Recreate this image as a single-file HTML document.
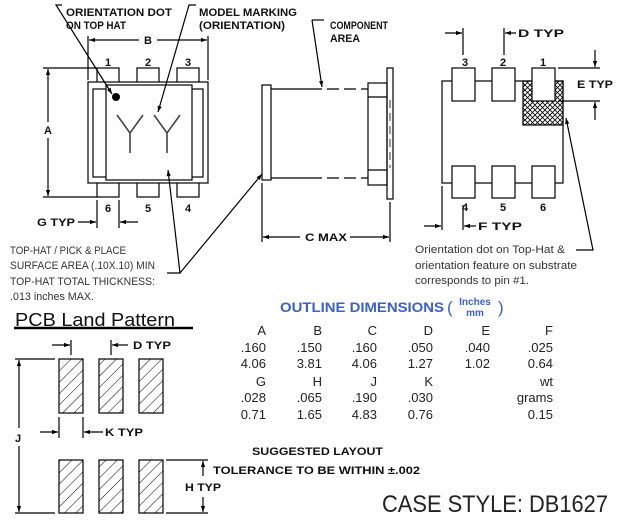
<!DOCTYPE html>
<html><head><meta charset="utf-8"><style>
html,body{margin:0;padding:0;background:#fff;}
svg{display:block;}
.t{font-family:"Liberation Sans",sans-serif;font-weight:bold;font-size:11px;fill:#111;}
.n{font-family:"Liberation Sans",sans-serif;font-size:11px;fill:#333;}
.d{font-family:"Liberation Sans",sans-serif;font-size:13px;fill:#222;}
</style></head><body>
<svg width="620" height="522" viewBox="0 0 620 522" xmlns="http://www.w3.org/2000/svg">
<defs>
<marker id="a" viewBox="0 0 10 10" refX="10" refY="5" markerWidth="8" markerHeight="6" orient="auto-start-reverse" markerUnits="userSpaceOnUse"><path d="M0,1.5 L10,5 L0,8.5 z" fill="#000"/></marker>
<pattern id="h" patternUnits="userSpaceOnUse" width="8" height="8" patternTransform="rotate(45)"><line x1="0" y1="0" x2="0" y2="8" stroke="#000" stroke-width="1"/></pattern>
<pattern id="x" patternUnits="userSpaceOnUse" width="5" height="5"><path d="M0,0 L5,5 M5,0 L0,5" stroke="#000" stroke-width="0.8"/></pattern>
</defs>
<g fill="none" stroke="#000" stroke-width="1.2">
<rect x="97" y="68" width="22" height="129" fill="#fff"/>
<rect x="137" y="68" width="22" height="129" fill="#fff"/>
<rect x="177" y="68" width="22" height="129" fill="#fff"/>
<rect x="88" y="82" width="120" height="101" fill="#fff"/>
<rect x="93" y="89" width="110" height="88" fill="#fff"/>
<rect x="106" y="85" width="86" height="95" fill="#fff"/>
<path d="M117,115 L130,133 L143,115 M130,133 L130,153 M154,115 L167,133 L180,115 M167,133 L167,153" stroke="#444" stroke-width="1.6"/>
<circle cx="116" cy="97" r="4" fill="#000" stroke="none"/>
<path d="M88,36 V80 M208,36 V80"/>
<path d="M139,40 H89" marker-end="url(#a)"/><path d="M157,40 H207" marker-end="url(#a)"/>
<path d="M43,68 H97 M43,197 H97"/>
<path d="M48,122 V69" marker-end="url(#a)"/><path d="M48,138 V196" marker-end="url(#a)"/>
<path d="M97,200 V228 M119,200 V228"/>
<path d="M78,222 H96" marker-end="url(#a)"/><path d="M138,222 H120" marker-end="url(#a)"/>
<path d="M62,5 H56 L112,94" marker-end="url(#a)"/>
<path d="M196,5 H189 L158,112" marker-end="url(#a)"/>
<path d="M167,273 H180 L168,170" marker-end="url(#a)"/>
<path d="M180,273 L262,174" marker-end="url(#a)"/>
<rect x="262" y="85" width="9" height="95" fill="#fff"/>
<path d="M271,89 H310 M271,178 H310"/>
<path d="M310,89 H368 M310,178 H368" stroke-dasharray="12,5"/>
<rect x="368" y="83" width="19" height="102"/>
<path d="M368,97 H387 M368,170 H387"/>
<rect x="387" y="68" width="6" height="131"/>
<path d="M390,100 V168" stroke-dasharray="8,5" stroke-width="0.8"/>
<path d="M312,20 H324"/><path d="M312,20 L322,87" marker-end="url(#a)"/>
<path d="M262,183 V242 M390,202 V242"/>
<path d="M300,237 H263" marker-end="url(#a)"/><path d="M350,237 H389" marker-end="url(#a)"/>
<rect x="442" y="81" width="121" height="102"/>
<rect x="523" y="81" width="40" height="44" fill="url(#x)"/>
<rect x="452" y="68" width="23" height="33" fill="#fff"/>
<rect x="492" y="68" width="23" height="33" fill="#fff"/>
<rect x="532" y="68" width="23" height="33" fill="#fff"/>
<rect x="452" y="166" width="23" height="32" fill="#fff"/>
<rect x="492" y="166" width="23" height="32" fill="#fff"/>
<rect x="532" y="166" width="23" height="32" fill="#fff"/>
<path d="M463,28 V55 M504,28 V55"/>
<path d="M445,33 H462" marker-end="url(#a)"/><path d="M516,33 H505" marker-end="url(#a)"/>
<path d="M558,68 H600 M558,101 H600"/>
<path d="M595,50 V67" marker-end="url(#a)"/><path d="M595,120 V102" marker-end="url(#a)"/>
<path d="M442,186 V230 M463,205 V230"/>
<path d="M424,226 H441" marker-end="url(#a)"/><path d="M476,226 H464" marker-end="url(#a)"/>
<path d="M576,250 H593 L566,118" marker-end="url(#a)"/>
<path d="M14,328 H193" stroke-width="2.5"/>
<g fill="url(#h)">
<rect x="59" y="359" width="24" height="54"/><rect x="99" y="359" width="24" height="54"/><rect x="139" y="359" width="24" height="54"/>
<rect x="59" y="460" width="24" height="53"/><rect x="99" y="460" width="24" height="53"/><rect x="139" y="460" width="24" height="53"/>
</g>
<path d="M15,359 H55 M15,513 H55"/>
<path d="M19,428 V360" marker-end="url(#a)"/><path d="M19,446 V512" marker-end="url(#a)"/>
<path d="M71,340 V355 M111,340 V355"/>
<path d="M52,345 H70" marker-end="url(#a)"/><path d="M128,345 H112" marker-end="url(#a)"/>
<path d="M59,417 V438 M83,417 V438"/>
<path d="M40,432 H58" marker-end="url(#a)"/><path d="M103,432 H84" marker-end="url(#a)"/>
<path d="M166,460 H208 M166,513 H208"/>
<path d="M203,476 V461" marker-end="url(#a)"/><path d="M203,497 V512" marker-end="url(#a)"/>
</g>
<text class="t" x="66" y="16" textLength="106" lengthAdjust="spacingAndGlyphs">ORIENTATION DOT</text>
<text class="t" x="66" y="29" textLength="60" lengthAdjust="spacingAndGlyphs">ON TOP HAT</text>
<text class="t" x="199" y="16" textLength="98" lengthAdjust="spacingAndGlyphs">MODEL MARKING</text>
<text class="t" x="199" y="29" textLength="86" lengthAdjust="spacingAndGlyphs">(ORIENTATION)</text>
<text class="t" x="330" y="29" textLength="58" lengthAdjust="spacingAndGlyphs">COMPONENT</text>
<text class="t" x="330" y="42" textLength="30" lengthAdjust="spacingAndGlyphs">AREA</text>
<g class="t" text-anchor="middle">
<text x="148" y="44">B</text><text x="48" y="134">A</text>
<text x="108" y="66">1</text><text x="148" y="66">2</text><text x="188" y="66">3</text>
<text x="108" y="212">6</text><text x="148" y="212">5</text><text x="188" y="212">4</text>
<text x="465" y="66">3</text><text x="503" y="66">2</text><text x="543" y="66">1</text>
<text x="465" y="211">4</text><text x="503" y="211">5</text><text x="543" y="211">6</text>
<text x="18" y="442">J</text>
</g>
<text class="t" x="37" y="226" textLength="38" lengthAdjust="spacingAndGlyphs">G TYP</text>
<text class="t" x="305" y="241" textLength="42" lengthAdjust="spacingAndGlyphs">C MAX</text>
<text class="t" x="518" y="37" textLength="46" lengthAdjust="spacingAndGlyphs">D TYP</text>
<text class="t" x="577" y="88" textLength="36" lengthAdjust="spacingAndGlyphs">E TYP</text>
<text class="t" x="478" y="230" textLength="44" lengthAdjust="spacingAndGlyphs">F TYP</text>
<text class="t" x="133" y="349" textLength="38" lengthAdjust="spacingAndGlyphs">D TYP</text>
<text class="t" x="105" y="436" textLength="38" lengthAdjust="spacingAndGlyphs">K TYP</text>
<text class="t" x="185" y="491" textLength="36" lengthAdjust="spacingAndGlyphs">H TYP</text>
<text class="t" x="252" y="455" textLength="131" lengthAdjust="spacingAndGlyphs">SUGGESTED LAYOUT</text>
<text class="t" x="213" y="474" textLength="207" lengthAdjust="spacingAndGlyphs">TOLERANCE TO BE WITHIN ±.002</text>
<g class="n">
<text x="10" y="254" textLength="116" lengthAdjust="spacingAndGlyphs">TOP-HAT / PICK &amp; PLACE</text>
<text x="10" y="269" textLength="145" lengthAdjust="spacingAndGlyphs">SURFACE AREA (.10X.10) MIN</text>
<text x="10" y="285" textLength="145" lengthAdjust="spacingAndGlyphs">TOP-HAT TOTAL THICKNESS:</text>
<text x="10" y="300" textLength="84" lengthAdjust="spacingAndGlyphs">.013 inches MAX.</text>
<text x="415" y="253" textLength="150" lengthAdjust="spacingAndGlyphs">Orientation dot on Top-Hat &amp;</text>
<text x="415" y="269" textLength="162" lengthAdjust="spacingAndGlyphs">orientation feature on substrate</text>
<text x="415" y="284" textLength="114" lengthAdjust="spacingAndGlyphs">corresponds to pin #1.</text>
</g>
<text x="15" y="326" font-family="Liberation Sans,sans-serif" font-size="18" fill="#111" textLength="160" lengthAdjust="spacingAndGlyphs">PCB Land Pattern</text>
<text x="280" y="312" font-family="Liberation Sans,sans-serif" font-size="14" font-weight="bold" fill="#3a5fcf" textLength="164" lengthAdjust="spacingAndGlyphs">OUTLINE DIMENSIONS</text>
<text x="447" y="313" font-family="Liberation Sans,sans-serif" font-size="17" fill="#3a5fcf">(</text>
<text x="475" y="305" font-family="Liberation Sans,sans-serif" font-size="10" font-weight="bold" fill="#3a5fcf" text-anchor="middle">Inches</text>
<text x="475" y="316" font-family="Liberation Sans,sans-serif" font-size="10" font-weight="bold" fill="#3a5fcf" text-anchor="middle">mm</text>
<text x="498" y="313" font-family="Liberation Sans,sans-serif" font-size="17" fill="#3a5fcf">)</text>
<g class="d" text-anchor="end">
<text x="266" y="335">A</text><text x="322" y="335">B</text><text x="377" y="335">C</text><text x="433" y="335">D</text><text x="490" y="335">E</text><text x="553" y="335">F</text>
<text x="266" y="352">.160</text><text x="322" y="352">.150</text><text x="377" y="352">.160</text><text x="433" y="352">.050</text><text x="490" y="352">.040</text><text x="553" y="352">.025</text>
<text x="266" y="368">4.06</text><text x="322" y="368">3.81</text><text x="377" y="368">4.06</text><text x="433" y="368">1.27</text><text x="490" y="368">1.02</text><text x="553" y="368">0.64</text>
<text x="266" y="386">G</text><text x="322" y="386">H</text><text x="377" y="386">J</text><text x="433" y="386">K</text><text x="553" y="386">wt</text>
<text x="266" y="402">.028</text><text x="322" y="402">.065</text><text x="377" y="402">.190</text><text x="433" y="402">.030</text><text x="553" y="402">grams</text>
<text x="266" y="419">0.71</text><text x="322" y="419">1.65</text><text x="377" y="419">4.83</text><text x="433" y="419">0.76</text><text x="553" y="419">0.15</text>
</g>
<text x="382" y="512" font-family="Liberation Sans,sans-serif" font-size="24" fill="#222" textLength="226" lengthAdjust="spacingAndGlyphs">CASE STYLE: DB1627</text>
</svg>
</body></html>
